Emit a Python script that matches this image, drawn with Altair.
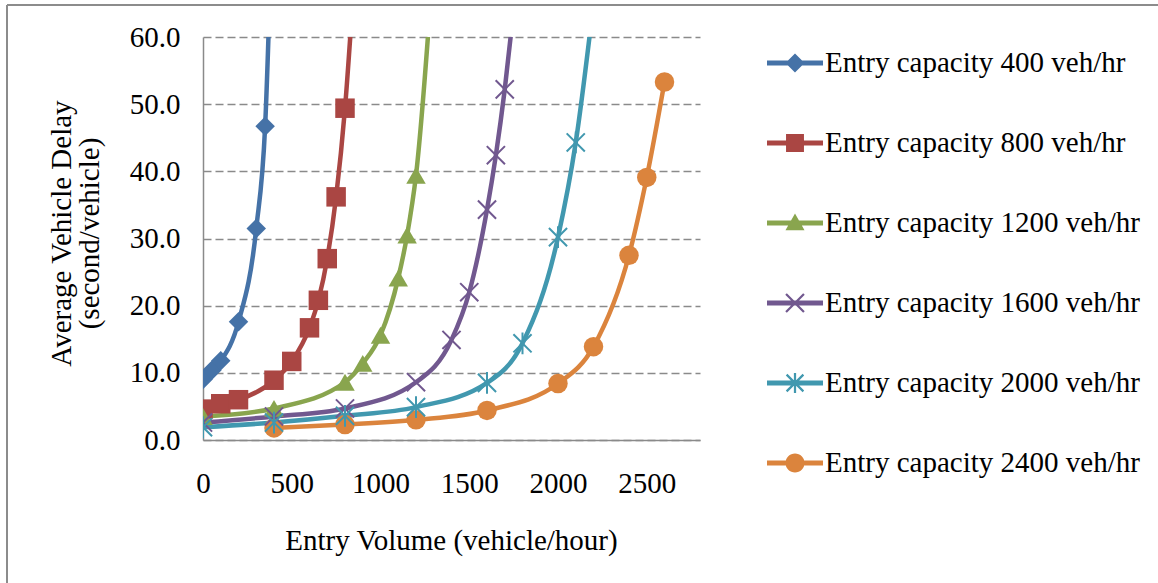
import math
import altair as alt
import pandas as pd

# ---------------- data ----------------
series_names = [
    "Entry capacity 400 veh/hr",
    "Entry capacity 800 veh/hr",
    "Entry capacity 1200 veh/hr",
    "Entry capacity 1600 veh/hr",
    "Entry capacity 2000 veh/hr",
    "Entry capacity 2400 veh/hr",
]
colors = ["#4572A7", "#AA4643", "#89A54E", "#71588F", "#4198AF", "#DB843D"]

vol_400 = [0, 50, 100, 200, 300, 350, 400]
delay_400 = [9.0, 10.4, 11.8, 17.6, 31.5, 46.7, 88.0]

vol_800 = [0, 100, 200, 400, 500, 600, 650, 700, 750, 800, 850]
delay_800 = [4.6, 5.4, 6.0, 8.9, 11.7, 16.7, 20.8, 27.0, 36.2, 49.4, 68.0]

vol_1200 = [0, 400, 800, 900, 1000, 1100, 1150, 1200, 1300]
delay_1200 = [3.5, 4.7, 8.6, 11.4, 15.6, 24.1, 30.5, 39.4, 72.0]

vol_1600 = [0, 400, 800, 1200, 1400, 1500, 1600, 1650, 1700, 1750]
delay_1600 = [2.6, 3.5, 4.7, 8.6, 14.9, 22.0, 34.3, 42.4, 52.2, 64.0]

vol_2000 = [0, 400, 800, 1200, 1600, 1800, 2000, 2100, 2200]
delay_2000 = [1.9, 2.6, 3.6, 4.9, 8.5, 14.4, 30.2, 44.3, 65.0]

vol_2400 = [400, 800, 1200, 1600, 2000, 2200, 2400, 2500, 2600]
delay_2400 = [1.8, 2.3, 3.0, 4.4, 8.4, 13.9, 27.5, 39.1, 53.3]

x_ticks = [0, 500, 1000, 1500, 2000, 2500]
y_ticks = [0, 10, 20, 30, 40, 50, 60]

vols = [vol_400, vol_800, vol_1200, vol_1600, vol_2000, vol_2400]
delays = [delay_400, delay_800, delay_1200, delay_1600, delay_2000, delay_2400]

rows = []
for name, xs, ys in zip(series_names, vols, delays):
    for xv, yv in zip(xs, ys):
        rows.append({"series": name, "volume": xv, "delay": yv})
df = pd.DataFrame(rows)

filled_series = [series_names[i] for i in (0, 1, 2, 5)]
stroked_series = [series_names[i] for i in (3, 4)]

# ---------------- marker shapes ----------------
marker_shapes = [
    "diamond",
    "square",
    "triangle-up",
    "M-1,-1L1,1M-1,1L1,-1",
    "M-1,-1L1,1M-1,1L1,-1M0,-1.2L0,1.2",
    "circle",
]


# legend symbols: line segment + marker, drawn as filled paths in [-1,1] units
def poly(pts):
    area = 0.0
    for i in range(len(pts)):
        x1, y1 = pts[i]
        x2, y2 = pts[(i + 1) % len(pts)]
        area += x1 * y2 - x2 * y1
    if area < 0:
        pts = list(reversed(pts))
    s = "M" + "L".join(f"{x:.3f},{y:.3f}" for x, y in pts) + "Z"
    return s


def rect(x0, y0, x1, y1):
    return poly([(x0, y0), (x1, y0), (x1, y1), (x0, y1)])


def seg(xa, ya, xb, yb, w):
    dx, dy = xb - xa, yb - ya
    L = math.hypot(dx, dy)
    nx, ny = -dy / L * w, dx / L * w
    return poly([(xa + nx, ya + ny), (xb + nx, yb + ny), (xb - nx, yb - ny), (xa - nx, ya - ny)])


lw = 0.085
line_path = rect(-1, -lw, 1, lw)
r = 0.34
leg_paths = [
    line_path + poly([(0, -r), (r, 0), (0, r), (-r, 0)]),
    line_path + rect(-0.32, -0.32, 0.32, 0.32),
    line_path + poly([(0, -0.34), (0.34, 0.26), (-0.34, 0.26)]),
    line_path + seg(-0.32, -0.32, 0.32, 0.32, 0.04) + seg(-0.32, 0.32, 0.32, -0.32, 0.04),
    line_path + seg(-0.3, -0.3, 0.3, 0.3, 0.04) + seg(-0.3, 0.3, 0.3, -0.3, 0.04)
    + seg(0, -0.36, 0, 0.36, 0.04),
    line_path + poly([(r * math.cos(2 * math.pi * k / 32), r * math.sin(2 * math.pi * k / 32)) for k in range(32)]),
]

FONT = "Liberation Serif"
FS = 29

color_scale = alt.Scale(domain=series_names, range=colors)
shape_scale = alt.Scale(domain=series_names, range=marker_shapes)

x_enc = alt.X(
    "volume:Q",
    scale=alt.Scale(domain=[0, 2800], nice=False),
    axis=alt.Axis(
        values=x_ticks,
        format="d",
        title="Entry Volume (vehicle/hour)",
        grid=False,
        ticks=False,
        tickSize=0,
        labelFlush=False,
        labelPadding=43,
        labelBaseline="middle",
        titleX=248,
        titleY=100,
        titleBaseline="middle",
        titleAlign="center",
    ),
)
y_enc = alt.Y(
    "delay:Q",
    scale=alt.Scale(domain=[0, 60], nice=False),
    axis=alt.Axis(
        values=y_ticks,
        format=".1f",
        title=["Average Vehicle Delay", "(second/vehicle)"],
        grid=True,
        gridDash=[8, 4],
        gridColor="#8a8a8a",
        gridWidth=1.5,
        ticks=False,
        tickSize=0,
        labelFlush=False,
        labelPadding=23,
        titleX=-142,
        titleY=196,
        titleAngle=270,
        titleAlign="center",
        titleBaseline="middle",
        titleLineHeight=28,
    ),
)

base = alt.Chart(df)

lines = base.mark_line(interpolate="monotone", strokeWidth=4.5, clip=True).encode(
    x=x_enc,
    y=y_enc,
    color=alt.Color("series:N", scale=color_scale, legend=None),
    detail="series:N",
)

pts_filled = (
    base.transform_filter(alt.FieldOneOfPredicate(field="series", oneOf=filled_series))
    .mark_point(filled=True, size=380, opacity=1, clip=True)
    .encode(
        x="volume:Q",
        y="delay:Q",
        color=alt.Color("series:N", scale=color_scale, legend=None),
        shape=alt.Shape("series:N", scale=shape_scale, legend=None),
    )
)

pts_stroked = (
    base.transform_filter(alt.FieldOneOfPredicate(field="series", oneOf=stroked_series))
    .mark_point(filled=False, size=330, strokeWidth=2, opacity=1, clip=True)
    .encode(
        x="volume:Q",
        y="delay:Q",
        color=alt.Color("series:N", scale=color_scale, legend=None),
        shape=alt.Shape("series:N", scale=shape_scale, legend=None),
    )
)

leg = alt.Legend(
    orient="none", legendX=564, legendY=-2, title=None,
    symbolSize=3136, symbolOpacity=1, symbolStrokeWidth=0,
    labelFont=FONT, labelFontSize=FS, labelColor="black",
    labelLimit=0, labelOffset=2, rowPadding=37, padding=0,
)

legend_layer = base.mark_point(filled=True, opacity=0, size=3136, strokeWidth=0).encode(
    x="volume:Q",
    y="delay:Q",
    color=alt.Color("series:N", scale=color_scale, title=None, legend=leg),
    shape=alt.Shape("series:N", scale=alt.Scale(domain=series_names, range=leg_paths), title=None,
                    legend=leg),
)

frame_df = pd.DataFrame({"k": [0]})
frame_left = alt.Chart(frame_df).mark_rule(color="#8c8c8c", strokeWidth=2, clip=False).encode(
    x=alt.value(-196), y=alt.value(-32), y2=alt.value(560)
)
frame_top = alt.Chart(frame_df).mark_rule(color="#8c8c8c", strokeWidth=2, clip=False).encode(
    x=alt.value(-196), x2=alt.value(960), y=alt.value(-32)
)

chart = (
    alt.layer(lines, pts_filled, pts_stroked, legend_layer, frame_left, frame_top)
    .resolve_scale(shape="independent", color="independent")
    .properties(
        width=497,
        height=403,
        autosize=alt.AutoSizeParams(type="none"),
        padding={"left": 203, "top": 37, "right": 458, "bottom": 143},
        background="white",
    )
    .configure_view(stroke=None)
    .configure_axis(
        labelFont=FONT,
        labelFontSize=FS,
        labelColor="black",
        titleFont=FONT,
        titleFontSize=FS,
        titleFontWeight="normal",
        titleColor="black",
        domainColor="#8a8a8a",
        domainWidth=1.5,
    )
)

chart.save("out.html", embed_options={"renderer": "svg", "actions": False})
